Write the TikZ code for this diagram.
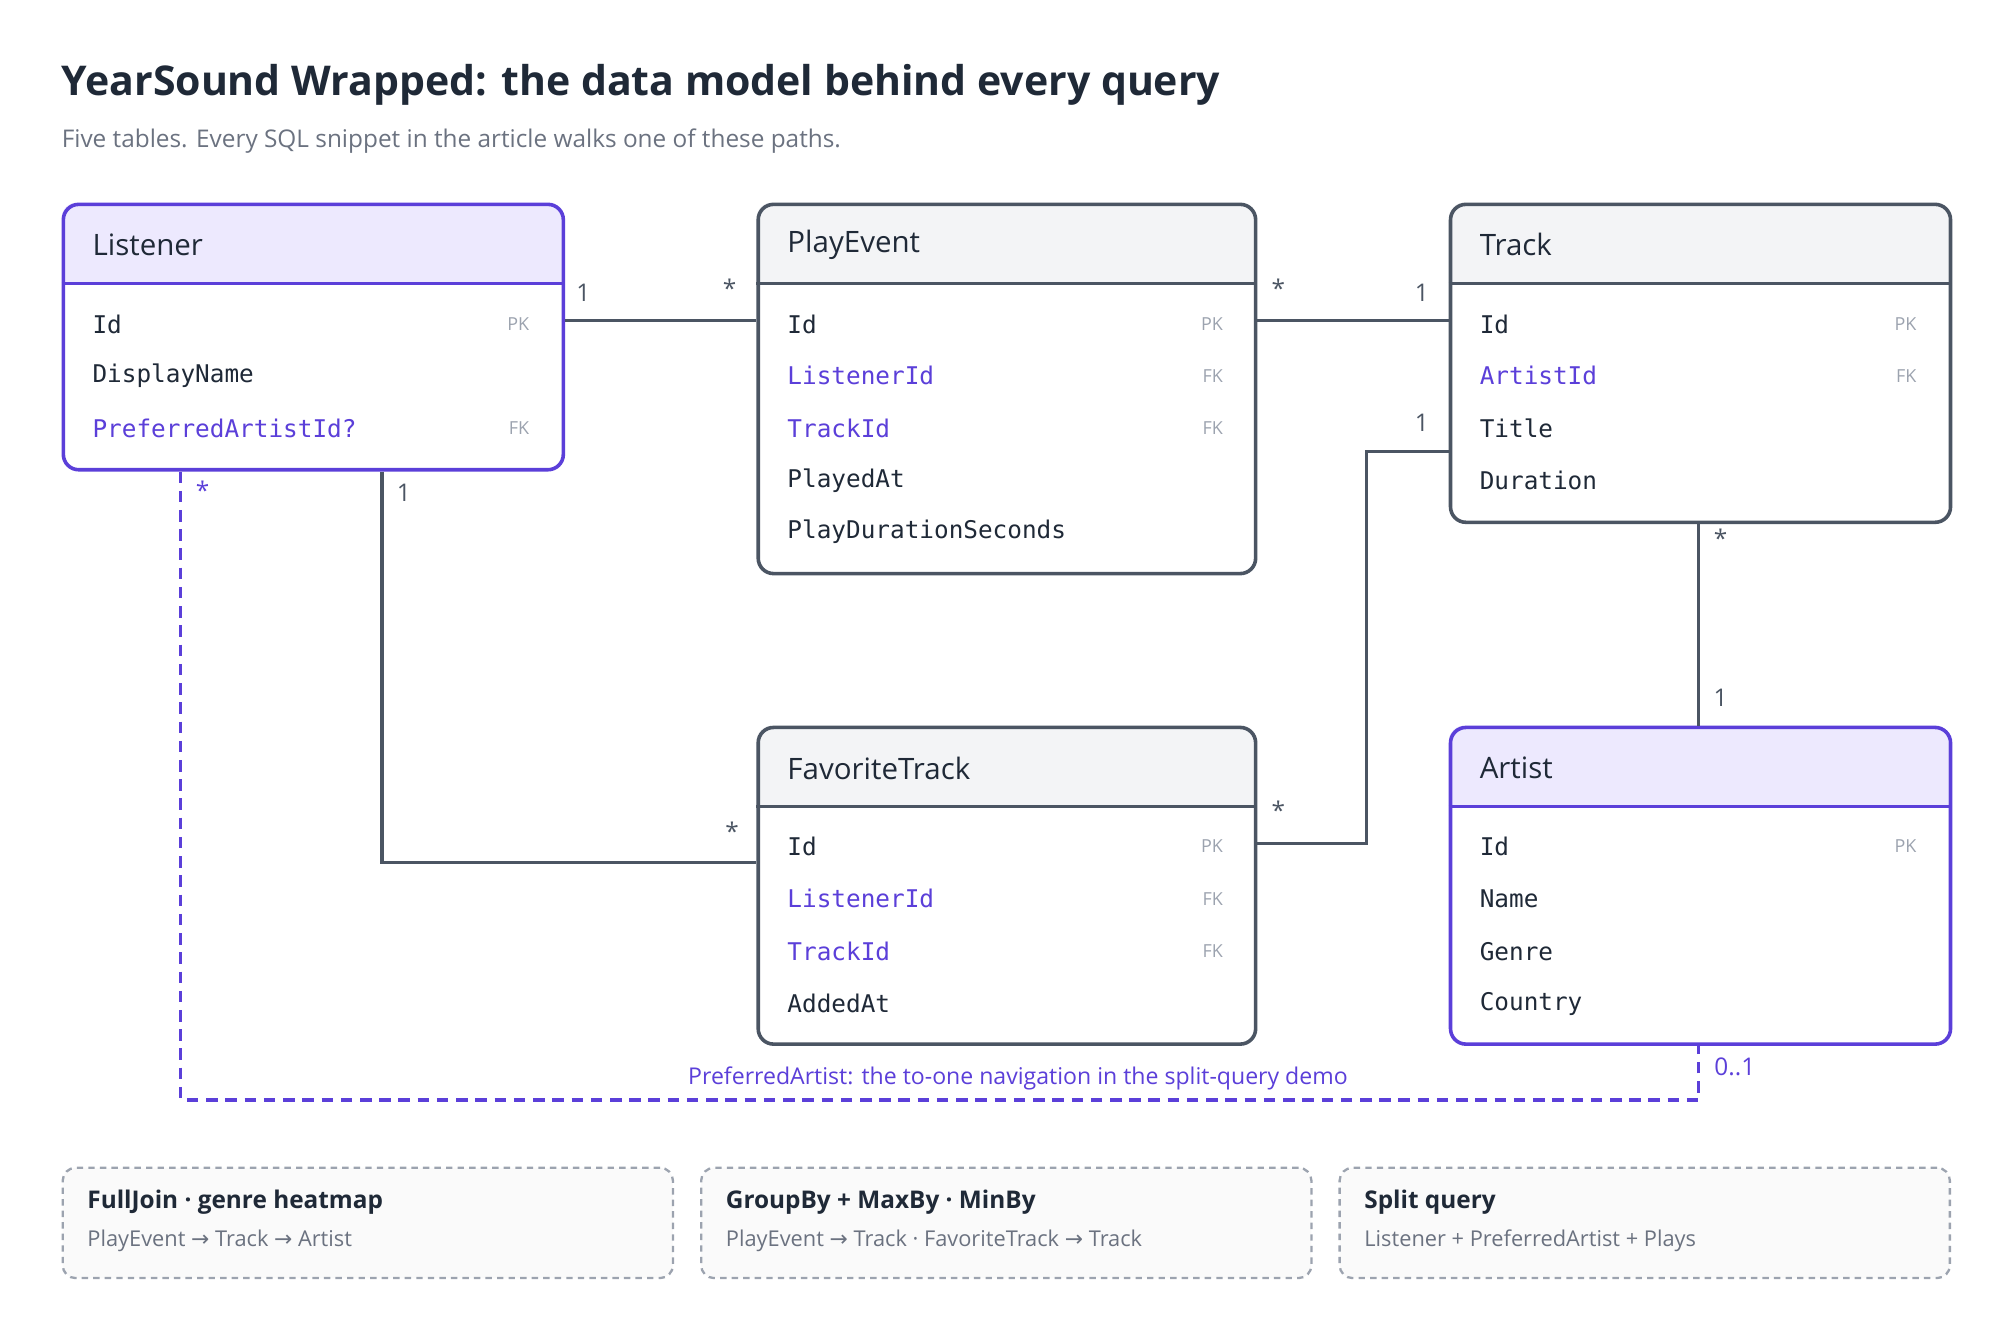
\documentclass[tikz,border=0pt]{standalone}
\usepackage{fontspec}
\setmainfont{Open Sans}
\newfontfamily\mono{DejaVu Sans Mono}
\newfontfamily\arr{DejaVu Sans}
\usetikzlibrary{calc}
\definecolor{pur}{HTML}{5B3FD9}
\definecolor{purbg}{HTML}{EDE9FE}
\definecolor{dk}{HTML}{4B5563}
\definecolor{gbg}{HTML}{F3F4F6}
\definecolor{txt}{HTML}{1F2937}
\definecolor{mut}{HTML}{6B7280}
\definecolor{pk}{HTML}{9CA3AF}
\newcommand{\ra}{{\arr →}}
\tikzset{
 row/.style={anchor=west,font=\mono\fontsize{19}{22}\selectfont,text=txt,inner sep=0},
 fk/.style={row,text=pur},
 key/.style={anchor=east,font=\fontsize{14}{16}\selectfont,text=pk,inner sep=0},
 hd/.style={anchor=west,font=\fontsize{23}{28}\selectfont,text=txt,inner sep=0},
 card/.style={font=\fontsize{19}{22}\selectfont,text=dk,inner sep=0},
 conn/.style={draw=dk,line width=2.5pt},
 navline/.style={draw=pur,line width=2.5pt,dash pattern=on 9pt off 6pt},
 note/.style={draw=pk,line width=1.8pt,dash pattern=on 5pt off 4pt,rounded corners=10pt,fill=gray!4}
}
\newcommand{\tbl}[8]{% name,x,y,w,h,title,border,headerfill
 \begin{scope}
 \clip[rounded corners=12pt] (#2,#3) rectangle ++(#4,#5);
 \fill[white] (#2,#3) rectangle ++(#4,#5);
 \fill[#8] (#2,#3) rectangle ++(#4,63);
 \end{scope}
 \node[draw=#7,line width=2.8pt,rounded corners=12pt,minimum width=#4pt,minimum height=#5pt,anchor=north west,inner sep=0] (#1) at (#2,#3) {};
 \draw[#7,line width=2.8pt] (#2,#3+63) -- ++(#4,0);
 \node[hd] (#1t) at (#2+24,#3+33) {#6};
}
\begin{document}
\begin{tikzpicture}[x=1pt,y=-1pt]
\useasboundingbox (0,0) rectangle (1560,1030);
\node[anchor=west,inner sep=0,font=\fontsize{32}{40}\selectfont\bfseries,text=txt] (title) at (48,66) {YearSound Wrapped: the data model behind every query};
\node[anchor=west,inner sep=0,font=\fontsize{19}{24}\selectfont,text=mut] (sub) at (48,110) {Five tables. Every SQL snippet in the article walks one of these paths.};

\tbl{L}{48}{158}{390}{207}{Listener}{pur}{purbg}
\node[row] (l1) at (72,253) {Id}; \node[key] (l1k) at (413,253) {PK};
\node[row] (l2) at (72,293) {DisplayName};
\node[fk] (l3) at (72,334) {PreferredArtistId?}; \node[key] (l3k) at (413,334) {FK};

\tbl{P}{590}{158}{388}{288}{PlayEvent}{dk}{gbg}
\node[row] (p1) at (614,253) {Id}; \node[key] (p1k) at (954,253) {PK};
\node[fk] (p2) at (614,293) {ListenerId}; \node[key] (p2k) at (954,293) {FK};
\node[fk] (p3) at (614,334) {TrackId}; \node[key] (p3k) at (954,334) {FK};
\node[row] (p4) at (614,375) {PlayedAt};
\node[row] (p5) at (614,415) {PlayDurationSeconds};

\tbl{T}{1130}{158}{390}{248}{Track}{dk}{gbg}
\node[row] (t1) at (1154,253) {Id}; \node[key] (t1k) at (1495,253) {PK};
\node[fk] (t2) at (1154,293) {ArtistId}; \node[key] (t2k) at (1495,293) {FK};
\node[row] (t3) at (1154,334) {Title};
\node[row] (t4) at (1154,375) {Duration};

\tbl{F}{590}{566}{388}{247}{FavoriteTrack}{dk}{gbg}
\node[row] (f1) at (614,660) {Id}; \node[key] (f1k) at (954,660) {PK};
\node[fk] (f2) at (614,701) {ListenerId}; \node[key] (f2k) at (954,701) {FK};
\node[fk] (f3) at (614,742) {TrackId}; \node[key] (f3k) at (954,742) {FK};
\node[row] (f4) at (614,783) {AddedAt};

\tbl{A}{1130}{566}{390}{247}{Artist}{pur}{purbg}
\node[row] (a1) at (1154,660) {Id}; \node[key] (a1k) at (1495,660) {PK};
\node[row] (a2) at (1154,701) {Name};
\node[row] (a3) at (1154,742) {Genre};
\node[row] (a4) at (1154,783) {Country};

% connectors
\draw[conn] (L.north east |- 0,250) -- (P.north west |- 0,250);
\node[card] at (455,228) {1}; \node[card] at (569,225) {*};
\draw[conn] (P.north east |- 0,250) -- (T.north west |- 0,250);
\node[card] at (997,225) {*}; \node[card] at (1109,228) {1};
\draw[conn] (T.north west |- 0,352) -- (1066,352) -- (1066,658) -- (F.north east |- 0,658);
\node[card] at (1109,330) {1}; \node[card] at (997,632) {*};
\draw[conn] (L.south west -| 298,0) -- (298,673) -- (F.north west |- 0,673);
\node[card] at (315,384) {1}; \node[card] at (571,648) {*};
\draw[conn] (T.south west -| 1325,0) -- (A.north west -| 1325,0);
\node[card] at (1342,420) {*}; \node[card] at (1342,544) {1};
\draw[navline] (L.south west -| 141,0) -- (141,858) -- (1325,858) -- (A.south west -| 1325,0);
\node[card,text=pur] at (158,382) {*};
\node[card,text=pur,anchor=west] at (1337,832) {0..1};
\node[inner sep=0,text=pur,font=\fontsize{18}{22}\selectfont] (dl) at (794,841) {PreferredArtist: the to-one navigation in the split-query demo};

% notes
\foreach \n/\x/\a/\b in {n1/48/{FullJoin · genre heatmap}/{PlayEvent \ra{} Track \ra{} Artist},
  n2/546/{GroupBy + MaxBy · MinBy}/{PlayEvent \ra{} Track · FavoriteTrack \ra{} Track},
  n3/1044/{Split query}/{Listener + PreferredArtist + Plays}}{
 \node[note,minimum width=476pt,minimum height=86pt,anchor=north west] (\n) at (\x,910) {};
 \node[anchor=west,inner sep=0,font=\fontsize{19}{24}\selectfont\bfseries,text=txt] at (\x+20,938) {\a};
 \node[anchor=west,inner sep=0,font=\fontsize{17}{22}\selectfont,text=mut] at (\x+20,968) {\b};
}
\end{tikzpicture}
\end{document}
